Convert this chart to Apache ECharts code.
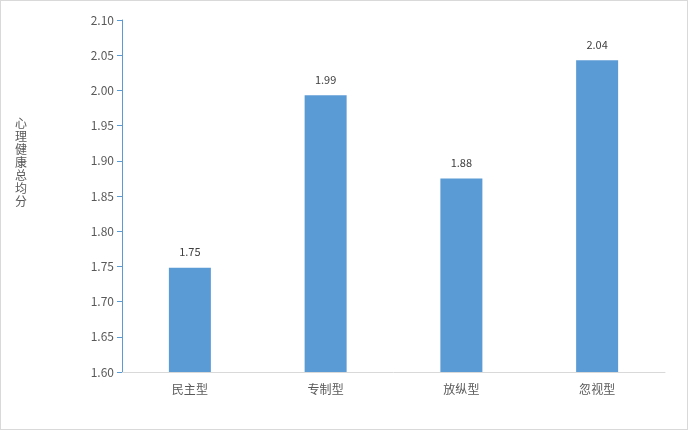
<!DOCTYPE html>
<html>
<head>
<meta charset="utf-8">
<script src="https://cdn.jsdelivr.net/npm/echarts@6/dist/echarts.min.js"></script>
<style>
  html, body { margin: 0; padding: 0; background: #fff; }
  #main { width: 686px; height: 428px; border: 1px solid #d9d9d9; }
</style>
</head>
<body>
<div id="main"></div>
<script>
  // data
  var categories = ['民主型', '专制型', '放纵型', '忽视型'];
  var scores = [1.748, 1.993, 1.875, 2.043];
  var axisName = '心理健康总均分';

  var myChart = echarts.init(document.getElementById('main'));

  var font = '"Microsoft YaHei", "Noto Sans CJK SC", sans-serif';

  var option = {
    animation: false,
    textStyle: { fontFamily: font },
    grid: { left: 121, right: 22, top: 19, bottom: 57 },
    // vertical axis title, one character per line
    graphic: [
      {
        type: 'text',
        left: 14,
        top: 116,
        style: {
          text: axisName.split('').join('\n'),
          fill: '#595959',
          fontSize: 12,
          lineHeight: 13,
          fontFamily: font
        }
      }
    ],
    xAxis: {
      type: 'category',
      data: categories,
      axisLine: { lineStyle: { color: '#d9d9d9', width: 1 } },
      axisTick: { show: false },
      axisLabel: { color: '#595959', fontSize: 12, margin: 11, fontFamily: font }
    },
    yAxis: {
      type: 'value',
      min: 1.6,
      max: 2.1,
      interval: 0.05,
      axisLine: { show: true, lineStyle: { color: '#5b9bd5', width: 1 } },
      axisTick: { show: true, length: 5, lineStyle: { color: '#5b9bd5' } },
      splitLine: { show: false },
      axisLabel: {
        color: '#595959', fontSize: 12, margin: 8, fontFamily: font,
        formatter: function (v) { return v.toFixed(2); }
      }
    },
    series: [
      {
        name: axisName,
        type: 'bar',
        data: scores,
        barWidth: 42,
        itemStyle: { color: '#5b9bd5' },
        label: {
          show: true,
          position: 'top',
          distance: 10,
          color: '#404040',
          fontSize: 11,
          fontFamily: font,
          formatter: function (p) { return p.value.toFixed(2); }
        }
      }
    ]
  };

  myChart.setOption(option);
</script>
</body>
</html>
